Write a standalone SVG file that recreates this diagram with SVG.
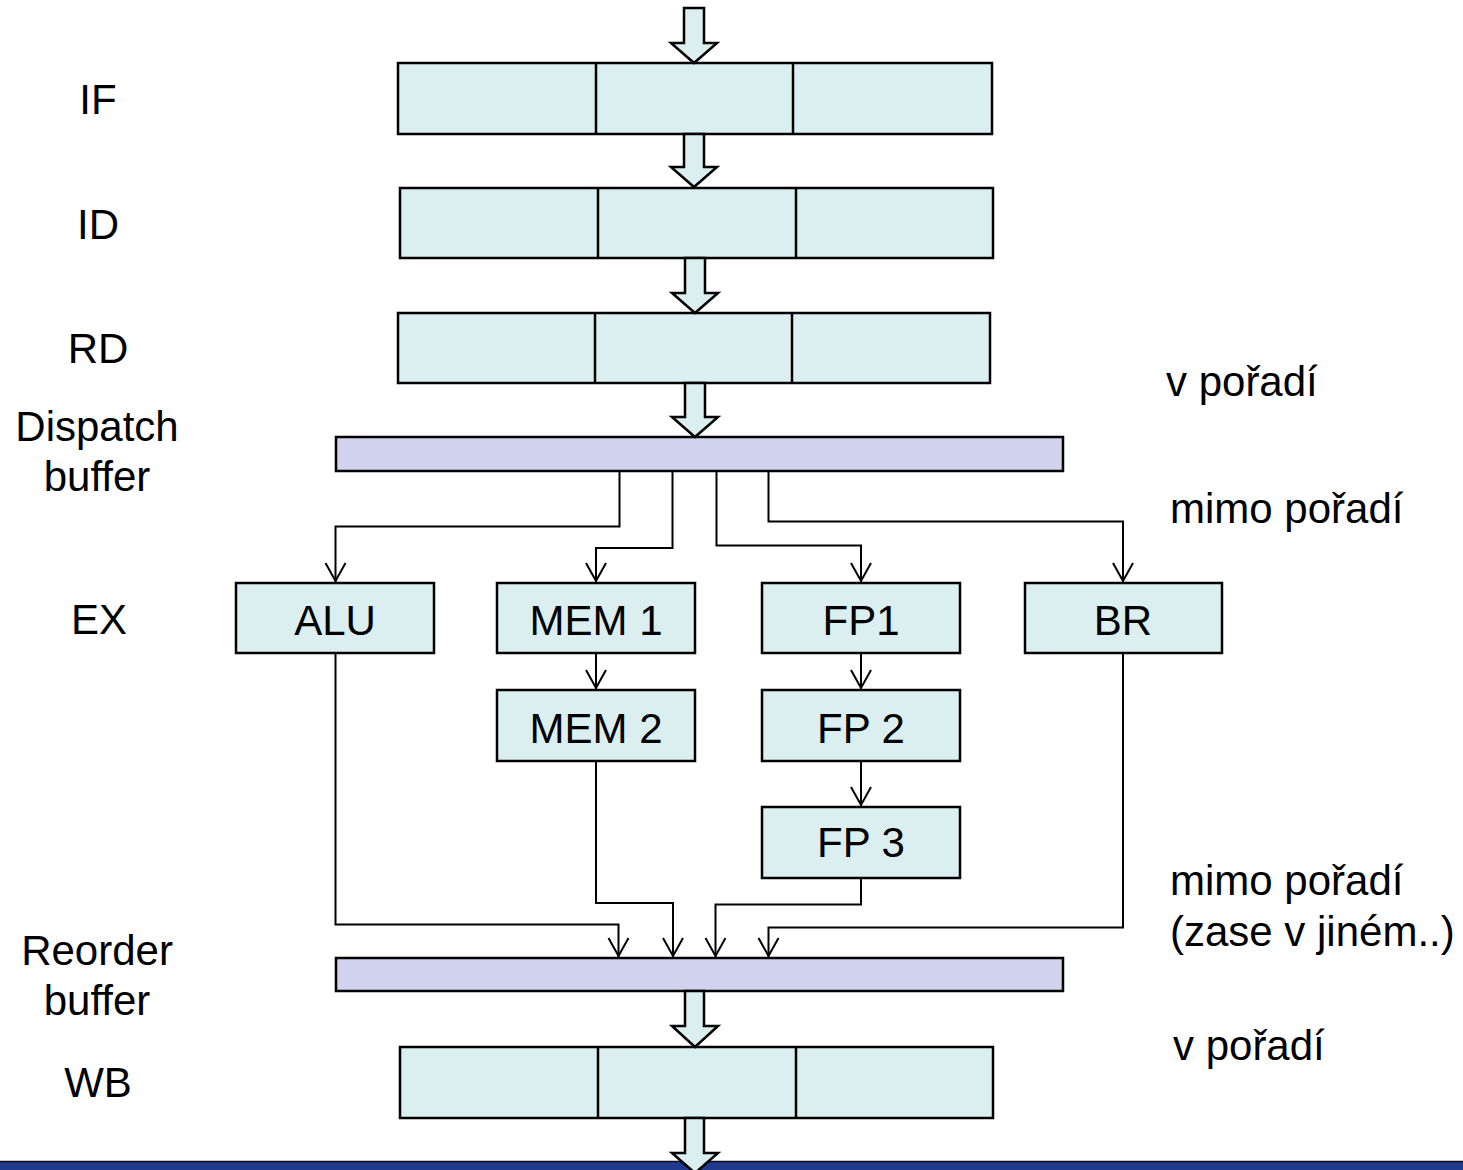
<svg xmlns="http://www.w3.org/2000/svg" width="1463" height="1170" viewBox="0 0 1463 1170">
<style>
.stage{fill:#DBEEF0;stroke:#000;stroke-width:2.5}
.buf{fill:#D0D2EE;stroke:#000;stroke-width:2.5}
.fat{fill:#DBEEF0;stroke:#000;stroke-width:2.5;stroke-linejoin:miter}
.div{stroke:#000;stroke-width:2.5}
.conn{fill:none;stroke:#000;stroke-width:2}
text{font-family:"Liberation Sans",Arial,sans-serif;font-size:42px;fill:#000}
.c{text-anchor:middle}
</style>
<defs>
<marker id="v" markerUnits="userSpaceOnUse" markerWidth="26" markerHeight="26" viewBox="-22 -13 26 26" refX="0" refY="0" orient="auto">
<path d="M-19,-10 L-1,0 L-19,10" fill="none" stroke="#000" stroke-width="2"/>
</marker>
</defs>
<rect x="0" y="1161" width="1463" height="9" fill="#1F3A8B"/>
<line x1="0" y1="1161.5" x2="1463" y2="1161.5" stroke="#111" stroke-width="1.5"/>
<g id="labels">
<text class="c" x="98" y="114">IF</text>
<text class="c" x="98" y="239">ID</text>
<text class="c" x="98" y="363">RD</text>
<text class="c" x="97" y="441">Dispatch</text>
<text class="c" x="97" y="491">buffer</text>
<text class="c" x="99" y="634">EX</text>
<text class="c" x="97" y="965">Reorder</text>
<text class="c" x="97" y="1015">buffer</text>
<text class="c" x="98" y="1097">WB</text>
<text x="1166" y="396">v pořadí</text>
<text x="1170" y="523">mimo pořadí</text>
<text x="1170" y="895">mimo pořadí</text>
<text x="1170" y="946">(zase v jiném..)</text>
<text x="1173" y="1060">v pořadí</text>
</g>
<g id="IF">
<rect class="stage" x="398" y="63" width="594" height="71"/>
<line class="div" x1="596" y1="63" x2="596" y2="134"/>
<line class="div" x1="793" y1="63" x2="793" y2="134"/>
</g>
<g id="ID">
<rect class="stage" x="400" y="188" width="593" height="70"/>
<line class="div" x1="598" y1="188" x2="598" y2="258"/>
<line class="div" x1="796" y1="188" x2="796" y2="258"/>
</g>
<g id="RD">
<rect class="stage" x="398" y="313" width="592" height="70"/>
<line class="div" x1="595" y1="313" x2="595" y2="383"/>
<line class="div" x1="792" y1="313" x2="792" y2="383"/>
</g>
<g id="dispatch">
<rect class="buf" x="336" y="437" width="727" height="34"/>
</g>
<g id="ALU">
<rect class="stage" x="236" y="583" width="198" height="70"/>
<text class="c" x="335" y="635">ALU</text>
</g>
<g id="MEM1">
<rect class="stage" x="497" y="583" width="198" height="70"/>
<text class="c" x="596" y="635">MEM 1</text>
</g>
<g id="FP1">
<rect class="stage" x="762" y="583" width="198" height="70"/>
<text class="c" x="861" y="635">FP1</text>
</g>
<g id="BR">
<rect class="stage" x="1025" y="583" width="197" height="70"/>
<text class="c" x="1123" y="635">BR</text>
</g>
<g id="MEM2">
<rect class="stage" x="497" y="690" width="198" height="71"/>
<text class="c" x="596" y="743">MEM 2</text>
</g>
<g id="FP2">
<rect class="stage" x="762" y="690" width="198" height="71"/>
<text class="c" x="861" y="743">FP 2</text>
</g>
<g id="FP3">
<rect class="stage" x="762" y="807" width="198" height="71"/>
<text class="c" x="861" y="857">FP 3</text>
</g>
<g id="reorder">
<rect class="buf" x="336" y="958" width="727" height="33"/>
</g>
<g id="WB">
<rect class="stage" x="400" y="1047" width="593" height="71"/>
<line class="div" x1="598" y1="1047" x2="598" y2="1118"/>
<line class="div" x1="796" y1="1047" x2="796" y2="1118"/>
</g>
<g id="connectors">
<path class="fat" d="M684,8 L704,8 L704,43 L717,43 L694,63 L671,43 L684,43 Z"/>
<path class="fat" d="M684,134 L704,134 L704,167 L717,167 L694,187 L671,167 L684,167 Z"/>
<path class="fat" d="M685,258 L705,258 L705,293 L718,293 L695,313 L672,293 L685,293 Z"/>
<path class="fat" d="M685,383 L705,383 L705,417 L718,417 L695,437 L672,417 L685,417 Z"/>
<path class="fat" d="M685,991 L704,991 L704,1026 L718,1026 L695,1047 L672,1026 L685,1026 Z"/>
<path class="fat" d="M685,1118 L704,1118 L704,1153 L718,1153 L695,1173 L672,1153 L685,1153 Z"/>
<path class="conn" d="M619.5,471 V526.5 H335.5 V582" marker-end="url(#v)"/>
<path class="conn" d="M672.5,471 V548 H596 V582" marker-end="url(#v)"/>
<path class="conn" d="M716.5,471 V545.5 H861 V582" marker-end="url(#v)"/>
<path class="conn" d="M768.5,471 V521.5 H1123 V582" marker-end="url(#v)"/>
<path class="conn" d="M596,653 V689" marker-end="url(#v)"/>
<path class="conn" d="M861,653 V689" marker-end="url(#v)"/>
<path class="conn" d="M861,761 V806" marker-end="url(#v)"/>
<path class="conn" d="M335.5,653 V924.5 H618.5 V957" marker-end="url(#v)"/>
<path class="conn" d="M596,761 V903 H673 V957" marker-end="url(#v)"/>
<path class="conn" d="M861,878 V904.5 H715.5 V957" marker-end="url(#v)"/>
<path class="conn" d="M1123,653 V927.5 H768.5 V957" marker-end="url(#v)"/>
</g>
</svg>
